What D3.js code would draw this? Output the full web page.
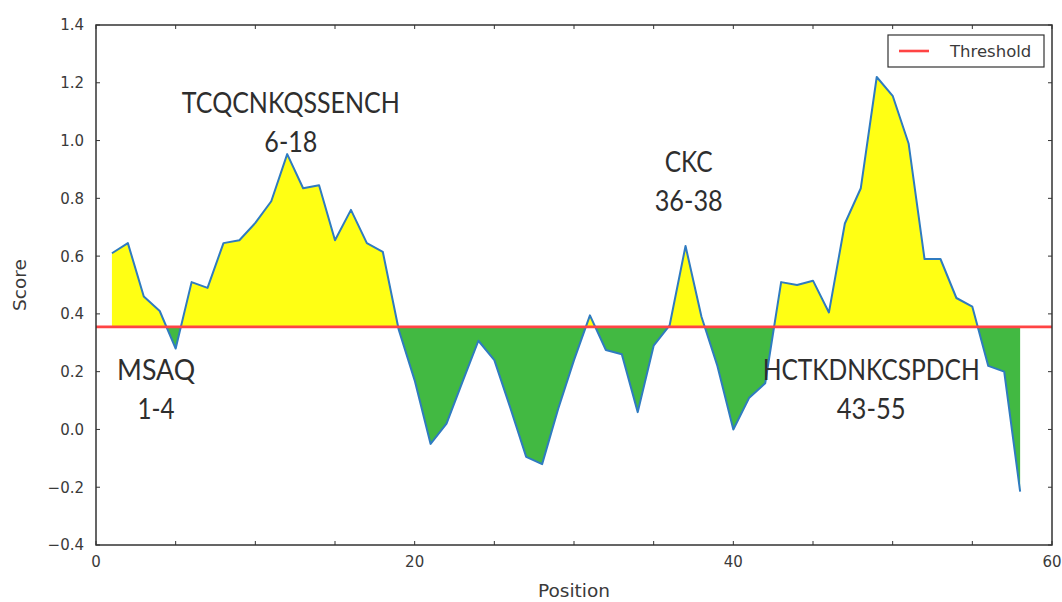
<!DOCTYPE html>
<html>
<head>
<meta charset="utf-8">
<script src="https://cdn.jsdelivr.net/npm/d3@7"></script>
<style>
  html, body { margin: 0; padding: 0; background: #fff; }
  svg { display: block; }
</style>
</head>
<body>
<svg id="chart" width="1062" height="602"></svg>
<script>
// Residue positions along the sequence and their antigenicity score
const positions = [1, 2, 3, 4, 5, 6, 7, 8, 9, 10, 11, 12, 13, 14, 15, 16, 17, 18, 19, 20,
  21, 22, 23, 24, 25, 26, 27, 28, 29, 30, 31, 32, 33, 34, 35, 36, 37, 38, 39, 40,
  41, 42, 43, 44, 45, 46, 47, 48, 49, 50, 51, 52, 53, 54, 55, 56, 57, 58];
const scores = [0.61, 0.645, 0.46, 0.41, 0.28, 0.51, 0.49, 0.645, 0.655, 0.715,
  0.79, 0.953, 0.835, 0.845, 0.655, 0.76, 0.645, 0.615, 0.345, 0.17,
  -0.05, 0.02, 0.165, 0.307, 0.24, 0.075, -0.095, -0.12, 0.07, 0.24,
  0.395, 0.275, 0.26, 0.06, 0.29, 0.36, 0.635, 0.39, 0.22, 0.0,
  0.11, 0.16, 0.51, 0.5, 0.515, 0.405, 0.713, 0.835, 1.22, 1.155,
  0.99, 0.59, 0.59, 0.455, 0.425, 0.22, 0.2, -0.215];
const threshold = 0.355;

// Axis ticks
const xTickValues = [0, 5, 10, 15, 20, 25, 30, 35, 40, 45, 50, 55, 60];
const xTickLabels = [0, 20, 40, 60];
const yTickValues = [-0.4, -0.2, 0.0, 0.2, 0.4, 0.6, 0.8, 1.0, 1.2, 1.4];

// Predicted epitope regions
const epitopeSeqs = ["MSAQ", "TCQCNKQSSENCH", "CKC", "HCTKDNKCSPDCH"];
const epitopeRanges = ["1-4", "6-18", "36-38", "43-55"];

// Where each epitope caption sits (data coordinates) and its rendered widths
const captionLayout = [
  { x: 3.77, y: 0.171, seqW: 78, rangeW: 37 },
  { x: 12.23, y: 1.094, seqW: 218, rangeW: 53 },
  { x: 37.2, y: 0.892, seqW: 48, rangeW: 68 },
  { x: 48.65, y: 0.171, seqW: 217, rangeW: 69 }
];

const W = 1062, H = 602;
const plot = { left: 96, right: 1052, top: 25, bottom: 545 };

const svg = d3.select("#chart");
svg.append("rect").attr("width", W).attr("height", H).attr("fill", "#fff");

const x = d3.scaleLinear().domain([0, 60]).range([plot.left, plot.right]);
const y = d3.scaleLinear().domain([-0.4, 1.4]).range([plot.bottom, plot.top]);

const pts = positions.map((p, i) => ({ x: p, y: scores[i] }));

// Add the points where the score crosses the threshold so both fills meet cleanly
const filled = [];
pts.forEach((d, i) => {
  filled.push(d);
  const n = pts[i + 1];
  if (n && (d.y - threshold) * (n.y - threshold) < 0) {
    const t = (threshold - d.y) / (n.y - d.y);
    filled.push({ x: d.x + t * (n.x - d.x), y: threshold });
  }
});

const defs = svg.append("defs");
defs.append("clipPath").attr("id", "plotClip")
  .append("rect")
  .attr("x", plot.left).attr("y", plot.top)
  .attr("width", plot.right - plot.left).attr("height", plot.bottom - plot.top);

const g = svg.append("g").attr("clip-path", "url(#plotClip)");

const above = d3.area()
  .x(d => x(d.x))
  .y0(y(threshold))
  .y1(d => y(Math.max(d.y, threshold)));
const below = d3.area()
  .x(d => x(d.x))
  .y0(y(threshold))
  .y1(d => y(Math.min(d.y, threshold)));

g.append("path").datum(filled).attr("d", above).attr("fill", "#ffff14");
g.append("path").datum(filled).attr("d", below).attr("fill", "#42b942");

g.append("path").datum(pts)
  .attr("d", d3.line().x(d => x(d.x)).y(d => y(d.y)))
  .attr("fill", "none")
  .attr("stroke", "#2f7bc0")
  .attr("stroke-width", 2)
  .attr("stroke-linejoin", "round");

g.append("line")
  .attr("x1", plot.left).attr("x2", plot.right)
  .attr("y1", y(threshold)).attr("y2", y(threshold))
  .attr("stroke", "#ff4444")
  .attr("stroke-width", 2.6);

// Epitope captions
const captions = svg.append("g")
  .attr("font-family", "Lato, 'Open Sans', sans-serif")
  .attr("fill", "#2e2e2e")
  .attr("text-anchor", "middle");
epitopeSeqs.forEach((s, i) => {
  const c = captionLayout[i];
  captions.append("text")
    .attr("x", x(c.x)).attr("y", y(c.y))
    .attr("font-size", 28)
    .attr("textLength", c.seqW)
    .attr("lengthAdjust", "spacingAndGlyphs")
    .text(s);
  captions.append("text")
    .attr("x", x(c.x)).attr("y", y(c.y) + 39)
    .attr("font-size", 28)
    .attr("textLength", c.rangeW)
    .attr("lengthAdjust", "spacingAndGlyphs")
    .text(epitopeRanges[i]);
});

// Frame and inward ticks on all four sides
const axisColor = "#333";
const tickLen = 4;
const ticks = svg.append("g").attr("stroke", axisColor).attr("stroke-width", 1);
xTickValues.forEach(v => {
  ticks.append("line").attr("x1", x(v)).attr("x2", x(v))
    .attr("y1", plot.bottom).attr("y2", plot.bottom - tickLen);
  ticks.append("line").attr("x1", x(v)).attr("x2", x(v))
    .attr("y1", plot.top).attr("y2", plot.top + tickLen);
});
yTickValues.forEach(v => {
  ticks.append("line").attr("y1", y(v)).attr("y2", y(v))
    .attr("x1", plot.left).attr("x2", plot.left + tickLen);
  ticks.append("line").attr("y1", y(v)).attr("y2", y(v))
    .attr("x1", plot.right).attr("x2", plot.right - tickLen);
});

svg.append("rect")
  .attr("x", plot.left).attr("y", plot.top)
  .attr("width", plot.right - plot.left).attr("height", plot.bottom - plot.top)
  .attr("fill", "none").attr("stroke", axisColor).attr("stroke-width", 1.5);

const labelFont = "'DejaVu Sans', sans-serif";
const fmt = d3.format(".1f");
const tickText = svg.append("g")
  .attr("font-family", labelFont).attr("font-size", 15).attr("fill", "#3a3a3a");
yTickValues.forEach(v => {
  tickText.append("text")
    .attr("x", plot.left - 12).attr("y", y(v))
    .attr("dy", "0.36em")
    .attr("text-anchor", "end")
    .text(fmt(v));
});
xTickLabels.forEach(v => {
  tickText.append("text")
    .attr("x", x(v)).attr("y", plot.bottom + 22)
    .attr("text-anchor", "middle")
    .text(v);
});

svg.append("text")
  .attr("x", (plot.left + plot.right) / 2).attr("y", 597)
  .attr("text-anchor", "middle")
  .attr("font-family", labelFont).attr("font-size", 18.5).attr("fill", "#3a3a3a")
  .text("Position");

svg.append("text")
  .attr("transform", `translate(26, ${(plot.top + plot.bottom) / 2}) rotate(-90)`)
  .attr("text-anchor", "middle")
  .attr("font-family", labelFont).attr("font-size", 18.5).attr("fill", "#3a3a3a")
  .text("Score");

// Legend
const legend = svg.append("g");
legend.append("rect")
  .attr("x", 888).attr("y", 35).attr("width", 156).attr("height", 32)
  .attr("fill", "#fff").attr("stroke", axisColor).attr("stroke-width", 1.2);
legend.append("line")
  .attr("x1", 899).attr("x2", 929).attr("y1", 51).attr("y2", 51)
  .attr("stroke", "#ff4444").attr("stroke-width", 2.6);
legend.append("text")
  .attr("x", 950).attr("y", 51).attr("dy", "0.36em")
  .attr("font-family", labelFont).attr("font-size", 16.5).attr("fill", "#3a3a3a")
  .text("Threshold");
</script>
</body>
</html>
